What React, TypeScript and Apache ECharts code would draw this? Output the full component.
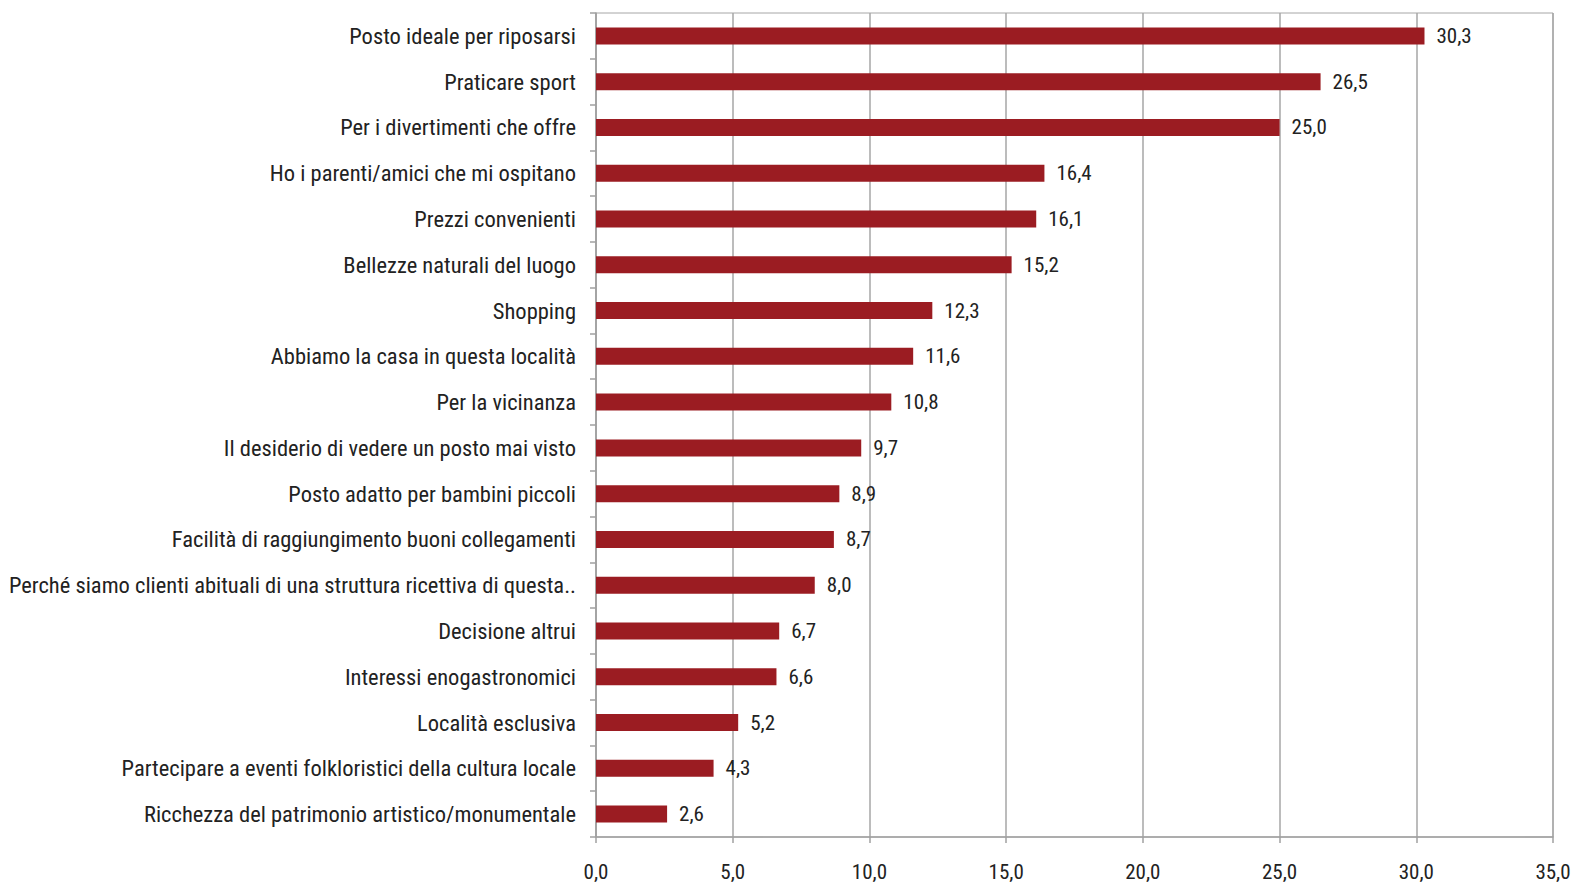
import React, { useEffect, useRef } from "react";
import * as echarts from "echarts";

const categories = [
  "Posto ideale per riposarsi",
  "Praticare sport",
  "Per i divertimenti che offre",
  "Ho i parenti/amici che mi ospitano",
  "Prezzi convenienti",
  "Bellezze naturali del luogo",
  "Shopping",
  "Abbiamo la casa in questa località",
  "Per la vicinanza",
  "Il desiderio di vedere un posto mai visto",
  "Posto adatto per bambini piccoli",
  "Facilità di raggiungimento buoni collegamenti",
  "Perché siamo clienti abituali di una struttura ricettiva di questa..",
  "Decisione altrui",
  "Interessi enogastronomici",
  "Località esclusiva",
  "Partecipare a eventi folkloristici della cultura locale",
  "Ricchezza del patrimonio artistico/monumentale",
];

const values = [30.3, 26.5, 25.0, 16.4, 16.1, 15.2, 12.3, 11.6, 10.8, 9.7, 8.9, 8.7, 8.0, 6.7, 6.6, 5.2, 4.3, 2.6];

const FONT = '"Liberation Sans Narrow", "Arial Narrow", "Roboto Condensed", "Liberation Sans", sans-serif';
const fmt = (v: number) => v.toFixed(1).replace(".", ",");

export default function App() {
  const ref = useRef<HTMLDivElement>(null);
  useEffect(() => {
    if (!ref.current) return;
    const chart = echarts.init(ref.current, undefined, { renderer: "svg" });
    chart.setOption({
      animation: false,
      backgroundColor: "#ffffff",
      grid: {
        left: 596,
        right: 25,
        top: 13,
        bottom: 49,
        containLabel: false,
        outerBoundsMode: "none",
        show: true,
        borderColor: "#a6a6a6",
        borderWidth: 1,
      },
      xAxis: {
        type: "value",
        min: 0,
        max: 35,
        interval: 5,
        axisLine: { show: true, lineStyle: { color: "#a0a0a0", width: 1.5 } },
        axisTick: { show: true, length: 6, lineStyle: { color: "#a0a0a0", width: 1.5 } },
        splitLine: { show: true, lineStyle: { color: "#a6a6a6", width: 1.5 } },
        axisLabel: { formatter: (v: number) => fmt(v), fontFamily: FONT, fontSize: 21, color: "#222", margin: 24 },
      },
      yAxis: {
        type: "category",
        data: categories,
        inverse: true,
        axisLine: { show: true, lineStyle: { color: "#a0a0a0", width: 1.5 } },
        axisTick: { show: true, length: 6, lineStyle: { color: "#a0a0a0", width: 1.5 } },
        axisLabel: { fontFamily: FONT, fontSize: 22.5, color: "#222", margin: 20 },
      },
      series: [
        {
          type: "bar",
          data: values,
          barWidth: 17,
          itemStyle: { color: "#9b1c22" },
          label: {
            show: true,
            position: "right",
            distance: 12,
            formatter: (p: any) => fmt(p.value),
            fontFamily: FONT,
            fontSize: 21,
            color: "#222",
          },
        },
      ],
    });
    return () => chart.dispose();
  }, []);
  return <div ref={ref} style={{ position: "absolute", left: 0, top: 0, width: 1578, height: 886 }} />;
}
